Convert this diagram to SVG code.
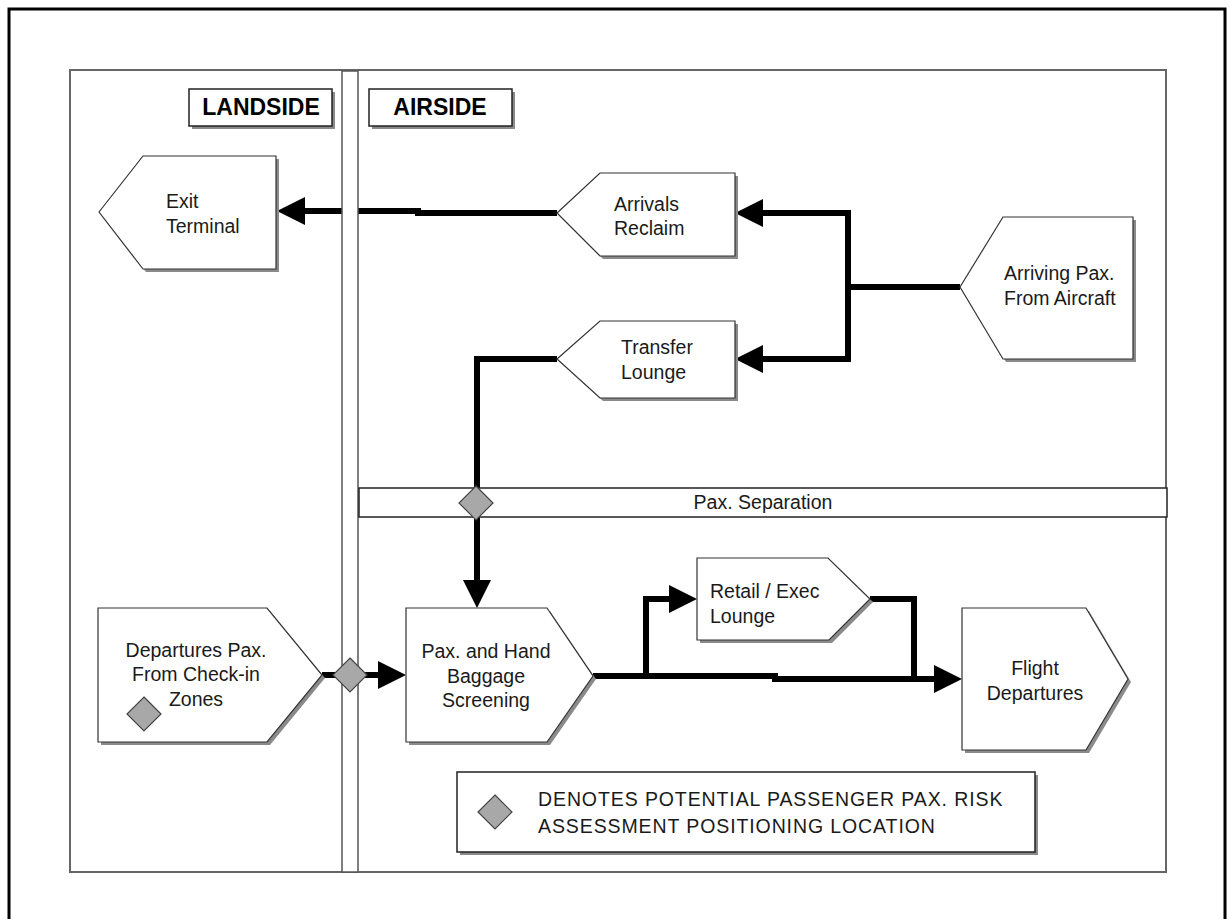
<svg xmlns="http://www.w3.org/2000/svg" xmlns:xlink="http://www.w3.org/1999/xlink" width="1230" height="919" viewBox="0 0 1230 919">
<style>
.t{font-family:"Liberation Sans",Arial,sans-serif;font-size:19.5px;fill:#1a1a1a}
.tb{font-family:"Liberation Sans",Arial,sans-serif;font-size:23px;font-weight:bold;fill:#000}
.node{fill:#fff;stroke:#333;stroke-width:1.2}
.shadow{fill:#8a8a8a;stroke:none}
.conn{fill:none;stroke:#000;stroke-width:6;stroke-linejoin:miter;stroke-linecap:butt}
.dia{fill:#a8a8a8;stroke:#444;stroke-width:1.2}
.lbl{fill:#fff;stroke:#222;stroke-width:1.5}
</style>
<defs>
<marker id="arr" markerUnits="userSpaceOnUse" markerWidth="29" markerHeight="29" refX="0" refY="14" orient="auto" overflow="visible">
<path d="M0,0 L28,14 L0,28 z" fill="#000"/>
</marker>
<polygon id="dmd" points="0,-17 17,0 0,17 -17,0"/>
</defs>
<rect x="0" y="0" width="1230" height="919" fill="#fff"/>
<rect x="9" y="9" width="1216" height="930" fill="none" stroke="#000" stroke-width="3"/>
<rect x="70" y="70" width="1096" height="802" fill="#fff" stroke="#666" stroke-width="2"/>

<g id="connectors">
<path class="conn" d="M557,213 H418 V211 H305" marker-end="url(#arr)"/>
<path class="conn" d="M960,287 H848 V213 H763" marker-end="url(#arr)"/>
<path class="conn" d="M848,287 V359 H763" marker-end="url(#arr)"/>
<path class="conn" d="M557,359 H477 V580" marker-end="url(#arr)"/>
<path class="conn" d="M322,675 H378" marker-end="url(#arr)"/>
<path class="conn" d="M593,676 H775 V679 H934" marker-end="url(#arr)"/>
<path class="conn" d="M646,676 V599 H669" marker-end="url(#arr)"/>
<path class="conn" d="M870,599 H914 V679"/>
</g>

<g id="divider">
<rect x="342" y="71" width="16" height="801" fill="#fff" stroke="#555" stroke-width="1.5"/>
</g>

<g id="pax-separation">
<rect class="lbl" x="359" y="488" width="808" height="29"/>
<text class="t" x="763" y="509" text-anchor="middle" font-size="18">Pax. Separation</text>
</g>

<g id="landside">
<rect class="shadow" x="192" y="92" width="143" height="37"/>
<rect class="lbl" x="189" y="89" width="143" height="37"/>
<text class="tb" x="261" y="115" text-anchor="middle">LANDSIDE</text>
</g>

<g id="airside">
<rect class="shadow" x="372" y="92" width="143" height="37"/>
<rect class="lbl" x="369" y="89" width="143" height="37"/>
<text class="tb" x="440" y="115" text-anchor="middle">AIRSIDE</text>
</g>

<g id="exit-terminal">
<polygon class="shadow" points="102,215 146,159 279,159 279,272 146,272"/>
<polygon class="node" points="99,212 143,156 276,156 276,269 143,269"/>
<text class="t" x="166" y="208">Exit</text>
<text class="t" x="166" y="233">Terminal</text>
</g>

<g id="arrivals-reclaim">
<polygon class="shadow" points="560,216 603,176 738,176 738,259 603,259"/>
<polygon class="node" points="557,213 600,173 735,173 735,256 600,256"/>
<text class="t" x="614" y="211">Arrivals</text>
<text class="t" x="614" y="235">Reclaim</text>
</g>

<g id="transfer-lounge">
<polygon class="shadow" points="560,362 603,324 738,324 738,401 603,401"/>
<polygon class="node" points="557,359 600,321 735,321 735,398 600,398"/>
<text class="t" x="621" y="354">Transfer</text>
<text class="t" x="621" y="379">Lounge</text>
</g>

<g id="arriving-pax">
<polygon class="shadow" points="963,290 1006,220 1136,220 1136,362 1006,362"/>
<polygon class="node" points="960,287 1003,217 1133,217 1133,359 1003,359"/>
<text class="t" x="1004" y="280">Arriving Pax.</text>
<text class="t" x="1004" y="305">From Aircraft</text>
</g>

<g id="departures-pax">
<polygon class="shadow" points="101,611 270,611 325,678 270,745 101,745"/>
<polygon class="node" points="98,608 267,608 322,675 267,742 98,742"/>
<text class="t" x="196" y="657" text-anchor="middle">Departures Pax.</text>
<text class="t" x="196" y="681" text-anchor="middle">From Check-in</text>
<text class="t" x="196" y="706" text-anchor="middle">Zones</text>
<use xlink:href="#dmd" class="dia" transform="translate(144,714)"/>
</g>

<g id="screening">
<polygon class="shadow" points="409,611 550,611 596,679 550,745 409,745"/>
<polygon class="node" points="406,608 547,608 593,676 547,742 406,742"/>
<text class="t" x="486" y="658" text-anchor="middle">Pax. and Hand</text>
<text class="t" x="486" y="683" text-anchor="middle">Baggage</text>
<text class="t" x="486" y="707" text-anchor="middle">Screening</text>
</g>

<g id="retail-lounge">
<polygon class="shadow" points="700,561 831,561 873,602 832,643 700,643"/>
<polygon class="node" points="697,558 828,558 870,599 829,640 697,640"/>
<text class="t" x="710" y="598">Retail / Exec</text>
<text class="t" x="710" y="623">Lounge</text>
</g>

<g id="flight-departures">
<polygon class="shadow" points="965,611 1089,611 1131,682 1089,753 965,753"/>
<polygon class="node" points="962,608 1086,608 1128,679 1086,750 962,750"/>
<text class="t" x="1035" y="675" text-anchor="middle">Flight</text>
<text class="t" x="1035" y="700" text-anchor="middle">Departures</text>
</g>

<g id="risk-points">
<use xlink:href="#dmd" class="dia" transform="translate(350,675)"/>
<use xlink:href="#dmd" class="dia" transform="translate(476,503)"/>
</g>

<g id="legend">
<rect class="shadow" x="460" y="775" width="578" height="80"/>
<rect class="lbl" x="457" y="772" width="578" height="80"/>
<use xlink:href="#dmd" class="dia" transform="translate(495,812)"/>
<text class="t" x="538" y="806" font-size="20" letter-spacing="0.9">DENOTES POTENTIAL PASSENGER PAX. RISK</text>
<text class="t" x="538" y="833" font-size="20" letter-spacing="0.9">ASSESSMENT POSITIONING LOCATION</text>
</g>
</svg>
